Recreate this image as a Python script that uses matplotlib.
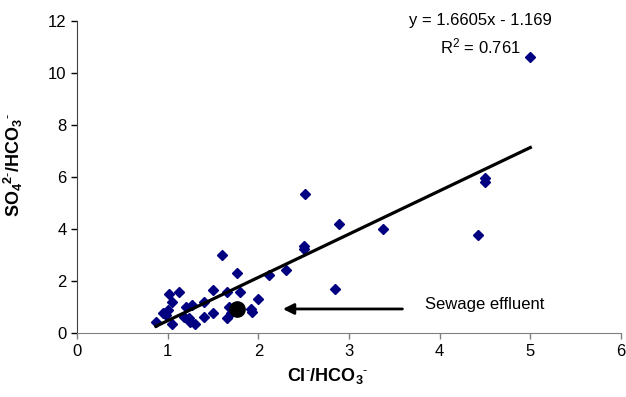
import matplotlib
matplotlib.use("Agg")
import matplotlib.pyplot as plt
import numpy as np

plt.rcParams['font.family'] = ['Liberation Sans', 'DejaVu Sans']
plt.rcParams['mathtext.fontset'] = 'custom'
plt.rcParams['mathtext.rm'] = 'Liberation Sans'
plt.rcParams['mathtext.it'] = 'Liberation Sans:italic'
plt.rcParams['mathtext.bf'] = 'Liberation Sans:bold'

cl_hco3 = [5.0, 4.5, 4.5, 4.42, 3.38, 2.89, 2.52, 2.5, 2.5, 2.3, 2.85, 2.12, 2.0,
           1.6, 1.76, 1.02, 1.12, 1.5, 1.65, 1.8, 1.05, 0.87, 1.05, 0.95, 1.27,
           1.4, 1.2, 1.23, 1.3, 1.4, 1.5, 1.65, 1.68, 1.92, 1.93, 0.98, 1.18,
           1.0, 1.25, 1.7]
so4_hco3 = [10.6, 5.95, 5.8, 3.77, 4.0, 4.2, 5.35, 3.35, 3.25, 2.45, 1.72, 2.25, 1.32,
            3.0, 2.32, 1.5, 1.6, 1.68, 1.6, 1.6, 1.2, 0.45, 0.38, 0.8, 1.1,
            1.2, 1.0, 0.6, 0.35, 0.65, 0.8, 0.6, 1.02, 0.95, 0.82, 0.7, 0.65,
            0.9, 0.45, 0.8]
sewage_x = [1.77]
sewage_y = [0.94]
slope, intercept = 1.6605, -1.169
r2 = 0.761

fig = plt.figure(figsize=(6.26, 3.97), dpi=100)
ax = fig.add_axes([0.123, 0.16, 0.869, 0.788])

ax.plot(cl_hco3, so4_hco3, linestyle='none', marker='D', markersize=5.6,
        color='#000080', zorder=3)
xs = np.array([min(cl_hco3), max(cl_hco3)])
ax.plot(xs, slope * xs + intercept, color='black', lw=2.3, zorder=4)
ax.plot(sewage_x, sewage_y, linestyle='none', marker='o', markersize=11,
        color='black', zorder=5)

ax.annotate('', xy=(2.24, 0.94), xytext=(3.62, 0.94),
            arrowprops=dict(arrowstyle='-|>', color='black', lw=2,
                            mutation_scale=16))
ax.text(3.84, 1.13, 'Sewage effluent', fontsize=12, va='center', ha='left')

ax.text(4.45, 12.0, f'y = {slope}x - {abs(intercept)}', fontsize=12,
        ha='center', va='center')
ax.text(4.45, 11.0, f'R$^{{2}}$ = {r2}', fontsize=12, ha='center', va='center')

ax.set_xlim(0, 6)
ax.set_ylim(0, 12)
ax.set_xticks(range(0, 7))
ax.set_yticks(range(0, 13, 2))
ax.tick_params(labelsize=12, direction='out', length=4, width=1)
ax.spines['top'].set_visible(False)
ax.spines['right'].set_visible(False)
ax.spines['bottom'].set_color('#808080')
ax.spines['left'].set_color('#404040')
ax.tick_params(axis='x', color='#808080')

ax.set_xlabel(r'$\mathbf{Cl{}^{\text{-}}/HCO_{3}{}^{\text{-}}}$', fontsize=13)
ax.set_ylabel(r'$\mathbf{SO_{4}{}^{2\text{-}}/HCO_{3}{}^{\text{-}}}$', fontsize=13)
ax.xaxis.set_label_coords(0.46, -0.105)
ax.yaxis.set_label_coords(-0.095, 0.54)

fig.savefig('out.png', dpi=100)
